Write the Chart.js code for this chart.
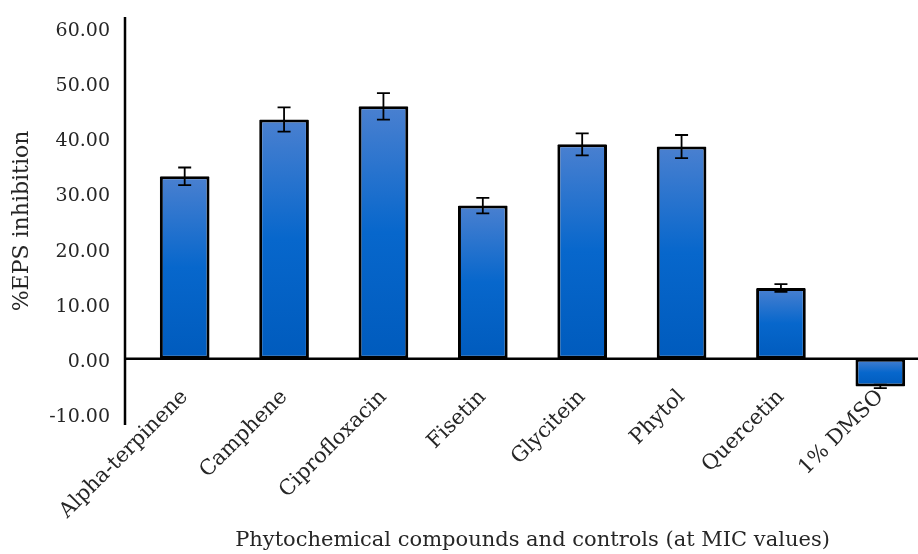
<!DOCTYPE html>
<html>
<head>
<meta charset="utf-8">
<script src="https://cdn.jsdelivr.net/npm/chart.js@4"></script>
<style>
  html, body { margin: 0; padding: 0; background: #fff; overflow: hidden; }
  #wrap { width: 918px; height: 554px; overflow: hidden; }
</style>
</head>
<body>
<div id="wrap"><canvas id="barChart" width="930" height="554"></canvas></div>
<script>
// chart data
const compounds = ['Alpha-terpinene', 'Camphene', 'Ciprofloxacin', 'Fisetin', 'Glycitein', 'Phytol', 'Quercetin', '1% DMSO'];
const epsInhibition = [33.1, 43.4, 45.8, 27.8, 38.9, 38.5, 12.85, -5.0];
const epsError = [1.6, 2.2, 2.4, 1.4, 2.0, 2.1, 0.7, 0.3];
const yTicks = [-10, 0, 10, 20, 30, 40, 50, 60];

const fontFamily = "'DejaVu Serif', serif";
const textColor = '#262626';

// excel-like gradient, light at the top of each bar
function barFill(context) {
    const chart = context.chart;
    const y = chart.scales.y;
    if (!chart.chartArea || !y || context.type !== 'data') return '#0066cc';
    const v = context.raw;
    const top = y.getPixelForValue(Math.max(v, 0));
    const bottom = y.getPixelForValue(Math.min(v, 0));
    if (!isFinite(top) || !isFinite(bottom) || bottom - top < 1) return '#0066cc';
    const g = chart.ctx.createLinearGradient(0, top, 0, bottom);
    g.addColorStop(0, '#4a80d0');
    g.addColorStop(0.5, '#0767cc');
    g.addColorStop(1, '#005bbd');
    return g;
}

// axis lines and error bars
const axesAndErrors = {
    id: 'axesAndErrors',
    afterDatasetsDraw(chart) {
        const ctx = chart.ctx;
        const y = chart.scales.y;
        const area = chart.chartArea;
        const axisX = area.left - 10;
        const zeroY = y.getPixelForValue(0);

        ctx.save();
        ctx.strokeStyle = '#000';
        ctx.lineWidth = 2.5;
        ctx.beginPath();
        ctx.moveTo(axisX, area.top);
        ctx.lineTo(axisX, area.bottom);
        ctx.moveTo(axisX - 1, zeroY);
        ctx.lineTo(chart.width, zeroY);
        ctx.stroke();

        const meta = chart.getDatasetMeta(0);
        ctx.lineWidth = 1.8;
        meta.data.forEach((bar, i) => {
            const hi = y.getPixelForValue(epsInhibition[i] + epsError[i]);
            const lo = y.getPixelForValue(epsInhibition[i] - epsError[i]);
            ctx.beginPath();
            ctx.moveTo(bar.x, hi);
            ctx.lineTo(bar.x, lo);
            ctx.moveTo(bar.x - 6.5, hi);
            ctx.lineTo(bar.x + 6.5, hi);
            ctx.moveTo(bar.x - 6.5, lo);
            ctx.lineTo(bar.x + 6.5, lo);
            ctx.stroke();
        });
        ctx.restore();
    }
};

const ctx = document.getElementById('barChart').getContext('2d');
const chart = new Chart(ctx, {
    type: 'bar',
    data: {
        labels: compounds,
        datasets: [{
            label: '%EPS inhibition',
            data: epsInhibition,
            backgroundColor: barFill,
            borderColor: '#000',
            borderWidth: 3,
            borderSkipped: false,
            borderRadius: 1,
            barPercentage: 0.5,
            categoryPercentage: 1
        }]
    },
    options: {
        responsive: false,
        animation: false,
        // room under the plot for the rotated labels and the axis title
        layout: { padding: { top: 17, right: 0, bottom: 129, left: 0 } },
        plugins: {
            legend: { display: false },
            tooltip: { enabled: false }
        },
        scales: {
            x: {
                // labels hang right under the zero line
                position: { y: 0 },
                offset: true,
                grid: { display: false, drawTicks: false },
                border: { display: false },
                ticks: {
                    color: textColor,
                    font: { family: fontFamily, size: 21 },
                    minRotation: 45,
                    maxRotation: 45,
                    padding: 26
                },
                title: {
                    display: true,
                    text: 'Phytochemical compounds and controls (at MIC values)',
                    color: textColor,
                    font: { family: fontFamily, size: 21 },
                    padding: { top: 0, bottom: -65 }
                },
                afterFit(scale) { scale.height = 129; }
            },
            y: {
                min: -12,
                max: 62,
                grid: { display: false, drawTicks: false },
                border: { display: false },
                afterBuildTicks(scale) { scale.ticks = yTicks.map(v => ({ value: v })); },
                ticks: {
                    color: textColor,
                    font: { family: fontFamily, size: 19 },
                    padding: 25,
                    labelOffset: 3,
                    callback: v => v.toFixed(2)
                },
                title: {
                    display: true,
                    text: '%EPS inhibition',
                    color: textColor,
                    font: { family: fontFamily, size: 22 },
                    padding: { top: 9, bottom: 0 }
                },
                afterFit(scale) {
                    scale.width = 135;
                    scale.paddingTop = 0;
                    scale.paddingBottom = 0;
                }
            }
        }
    },
    plugins: [axesAndErrors]
});
</script>
</body>
</html>
